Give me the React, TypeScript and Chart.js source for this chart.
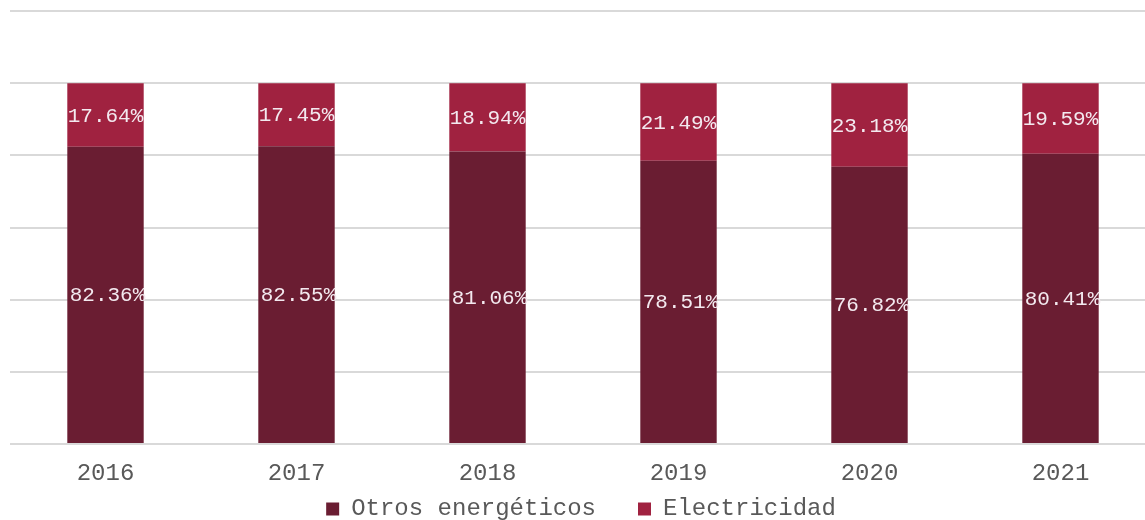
import React, { useEffect, useRef } from "react";
import { Chart, registerables } from "chart.js";

Chart.register(...registerables);

const years = ["2016", "2017", "2018", "2019", "2020", "2021"];
const otros = [82.36, 82.55, 81.06, 78.51, 76.82, 80.41];
const electricidad = [17.64, 17.45, 18.94, 21.49, 23.18, 19.59];
const seriesNames = ["Otros energéticos", "Electricidad"];

const FONT = "'Liberation Mono', 'Courier New', monospace";
const LEGEND_PAD = 42;
const LEGEND_FONT = 24;

const labelPlugin = {
  id: "segLabels",
  afterDatasetsDraw(chart: any) {
    const ctx = chart.ctx;
    ctx.save();
    ctx.font = `21px ${FONT}`;
    ctx.fillStyle = "#f3e9ef";
    ctx.textAlign = "center";
    ctx.textBaseline = "middle";
    chart.data.datasets.forEach((ds: any, di: number) => {
      const meta = chart.getDatasetMeta(di);
      const dx = di === 0 ? 2 : 0;
      meta.data.forEach((el: any, i: number) => {
        const v = ds.data[i];
        const yc = (el.y + el.base) / 2;
        ctx.fillText(v.toFixed(2) + "%", el.x + dx, yc + 1);
      });
    });
    ctx.restore();
  },
};

const legendPlacer = {
  id: "legendPlacer",
  afterLayout(chart: any) {
    const lg = chart.legend;
    if (!lg) return;
    const h = lg.height;
    const top = 509 - LEGEND_PAD - LEGEND_FONT / 2;
    lg.top = top;
    lg.bottom = top + h;
    lg.left -= 2;
    lg.right -= 2;
  },
};

export default function App() {
  const ref = useRef<HTMLCanvasElement>(null);
  useEffect(() => {
    const chart = new Chart(ref.current!, {
      type: "bar",
      data: {
        labels: years,
        datasets: [
          { label: seriesNames[0], data: otros, backgroundColor: "#6a1d32" },
          { label: seriesNames[1], data: electricidad, backgroundColor: "#a02240" },
        ],
      },
      options: {
        responsive: false,
        animation: false,
        layout: { padding: { left: 10, right: 4, top: 11, bottom: -47 } },
        datasets: { bar: { barPercentage: 0.4, categoryPercentage: 1 } },
        scales: {
          x: {
            stacked: true,
            grid: { display: false },
            border: { display: false },
            ticks: { color: "#595959", font: { family: FONT, size: 24 }, padding: 7 },
            afterFit: (s: any) => { s.height = 47; },
          },
          y: {
            stacked: true,
            min: 0,
            max: 120,
            ticks: { display: false, stepSize: 20 },
            border: { display: false },
            grid: { color: "#d9d9d9", lineWidth: 2, drawTicks: false },
            afterFit: (s: any) => { s.width = 0; },
          },
        },
        plugins: {
          tooltip: { enabled: false },
          legend: {
            position: "bottom",
            labels: {
              color: "#595959",
              font: { family: FONT, size: LEGEND_FONT },
              boxWidth: 13,
              boxHeight: 13,
              padding: LEGEND_PAD,
            },
          },
        },
      },
      plugins: [labelPlugin, legendPlacer],
    });
    return () => chart.destroy();
  }, []);
  return (
    <div style={{ position: "fixed", left: 0, top: 0, width: 1145, height: 520, overflow: "hidden", background: "#fff" }}>
      <canvas ref={ref} width={1160} height={520} />
    </div>
  );
}
